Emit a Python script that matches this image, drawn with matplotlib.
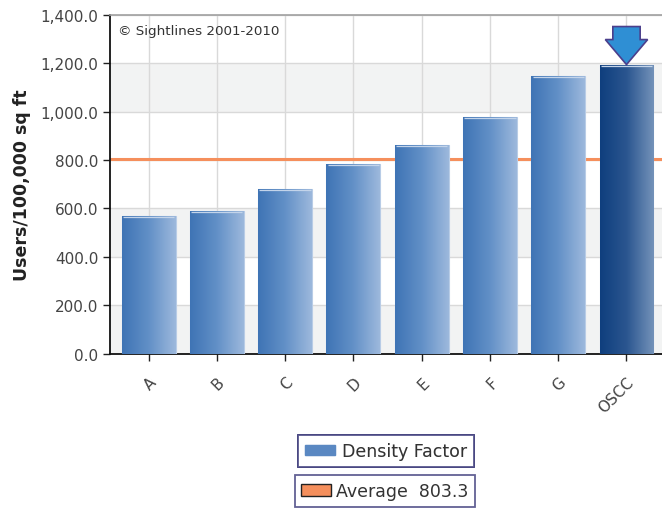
import numpy as np
import matplotlib
matplotlib.use("Agg")
import matplotlib.pyplot as plt
from matplotlib.patches import Patch, Polygon
from matplotlib.ticker import FuncFormatter, MultipleLocator
from matplotlib.colors import LinearSegmentedColormap

categories = ["A", "B", "C", "D", "E", "F", "G", "OSCC"]
density = [570, 588, 680, 783, 861, 977, 1147, 1195]
average = 803.3
highlight = "OSCC"

# shaded bands behind the bars (value ranges)
bands = [(0, 200), (400, 600), (1000, 1200)]

plt.rcParams['font.family'] = ['DejaVu Sans']

fig = plt.figure(figsize=(6.62, 5.10), dpi=100)
ax = fig.add_axes([0.1662, 0.3049, 0.8338, 0.6637])

x = np.arange(len(categories))

for lo, hi in bands:
    ax.axhspan(lo, hi, color="#f2f3f3", zorder=0, lw=0)

ax.yaxis.set_major_locator(MultipleLocator(200))
ax.grid(True, color="#d9d9d9", lw=1.0, zorder=1)
ax.set_axisbelow(True)

blue = LinearSegmentedColormap.from_list("blue", ["#3f74b5", "#6290c7", "#9cb8dc"])
navy = LinearSegmentedColormap.from_list("navy", ["#0f3f7e", "#2b5690", "#7392b9"])

bars = ax.bar(x, density, width=0.79, color="#5a88c2", zorder=3,
              edgecolor="#b8cce6", linewidth=0.8)
grad = np.linspace(0, 1, 64).reshape(1, -1)
for b, cat in zip(bars, categories):
    cmap = navy if cat == highlight else blue
    x0, w, h = b.get_x(), b.get_width(), b.get_height()
    im = ax.imshow(grad, cmap=cmap, aspect="auto", zorder=3.5,
                   extent=[x0, x0 + w, 0, h], interpolation="bicubic")
    im.set_clip_path(b)
    # thin light rim along the top
    ax.plot([x0 + 0.02, x0 + w - 0.02], [h - 4, h - 4], color="#c3d4ea",
            lw=0.9, zorder=4, solid_capstyle="butt")
ax.set_xlim(-0.564, 7.52)
ax.set_ylim(0, 1400)

ax.axhline(average, color="#f58f5c", lw=2.2, zorder=2.5)

# arrow pointing at the highlighted bar
i = categories.index(highlight)
top = density[i]
px_per_unit = 0.2416
head = 25 / px_per_unit
shaft = 38 / px_per_unit
arrow = Polygon([(i, top), (i - 0.31, top + head), (i - 0.2, top + head),
                 (i - 0.2, top + shaft), (i + 0.2, top + shaft),
                 (i + 0.2, top + head), (i + 0.31, top + head)],
                closed=True, facecolor="#2f8fd4", edgecolor="#4b3f8c",
                lw=1.2, zorder=5, clip_on=False)
ax.add_patch(arrow)

ax.text(0.015, 0.955, "\u00a9 Sightlines 2001-2010", transform=ax.transAxes,
        fontsize=9.7, color="#333333", va="center", ha="left", zorder=6)

ax.set_xticks(x)
ax.set_xticklabels(categories, rotation=45, ha="right", rotation_mode="anchor",
                   fontsize=11, color="#444444")
ax.tick_params(axis="x", length=5, width=1, color="#222222", pad=10)
ax.tick_params(axis="y", length=5, width=1, color="#222222", labelsize=11,
               labelcolor="#444444")
ax.yaxis.set_major_formatter(FuncFormatter(lambda v, p: f"{v:,.1f}"))
ax.set_ylabel("Users/100,000 sq ft", fontsize=12.5, fontweight="bold",
              color="#222222", labelpad=7)

for s in ["left", "bottom"]:
    ax.spines[s].set_color("#111111")
    ax.spines[s].set_linewidth(1.3)
ax.spines["top"].set_color("#a0a0a0")
ax.spines["top"].set_linewidth(1.2)
ax.spines["right"].set_visible(False)

leg1 = fig.legend(handles=[Patch(facecolor="#5a88c2", edgecolor="#5a88c2")],
                  labels=["Density Factor"], loc="center",
                  bbox_to_anchor=(386 / 662, 1 - 452 / 510), fontsize=12.5,
                  frameon=True, fancybox=False, handlelength=1.7,
                  handleheight=0.55, borderpad=0.4, handletextpad=0.4)
leg2 = fig.legend(handles=[Patch(facecolor="#f58f5c", edgecolor="#222222")],
                  labels=[f"Average  {average}"], loc="center",
                  bbox_to_anchor=(385 / 662, 1 - 492 / 510), fontsize=12.5,
                  frameon=True, fancybox=False, handlelength=1.7,
                  handleheight=0.65, borderpad=0.4, handletextpad=0.3)
for leg in (leg1, leg2):
    leg.get_frame().set_edgecolor("#3c3a7a")
    leg.get_frame().set_linewidth(1.3)
    for t in leg.get_texts():
        t.set_color("#333333")
fig.add_artist(leg1)

fig.savefig("out.png", dpi=100)
